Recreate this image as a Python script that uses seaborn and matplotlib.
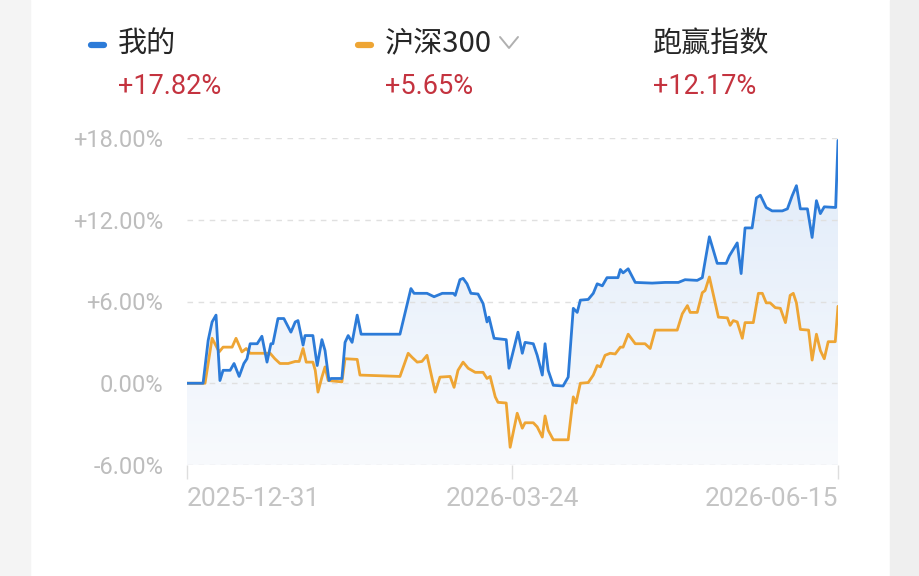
import numpy as np
import pandas as pd
import seaborn as sns
import matplotlib.pyplot as plt
import matplotlib.dates as mdates
from matplotlib.colors import LinearSegmentedColormap
from matplotlib.lines import Line2D
from matplotlib.patches import Rectangle

# Data (cumulative return in %, x as days after 2025-12-31)
start = pd.Timestamp('2025-12-31')
tick_dates = ['2025-12-31', '2026-03-24', '2026-06-15']
y_ticks = [-6, 0, 6, 12, 18]
y_labels = ['-6.00%', '0.00%', '+6.00%', '+12.00%', '+18.00%']

my_days = [0, 4.1, 5.4, 6.4, 7.4, 8.4, 9.2, 11.0, 12.0, 13.3, 14.5, 15.3, 16.1, 17.9, 19.1,
           20.4, 21.4, 21.9, 23.2, 24.7, 26.5, 27.6, 28.3, 29.6, 30.1, 32.1, 33.2, 34.4,
           35.2, 36.2, 36.7, 39.5, 40.3, 41.1, 42.1, 43.4, 44.4, 54.3, 57.1, 57.9, 61.2,
           63.0, 65.1, 67.9, 68.4, 69.6, 70.4, 71.4, 72.4, 74.2, 75.5, 76.5, 77.0, 78.3,
           81.4, 82.1, 84.4, 85.5, 86.2, 88.3, 89.3, 90.6, 91.3, 92.1, 93.4, 95.9, 97.2,
           98.5, 99.5, 100.3, 102.3, 103.6, 104.6, 105.9, 107.1, 109.9, 110.5, 111.2,
           112.5, 114.3, 118.6, 121.9, 125.3, 127.0, 130.1, 131.4, 131.9, 133.2, 135.2,
           137.5, 138.3, 140.3, 141.3, 142.3, 144.1, 145.2, 146.2, 147.7, 149.2, 151.8,
           153.1, 154.3, 155.4, 156.4, 158.2, 159.4, 160.5, 161.5, 162.5, 165.4, 166]
my_vals = [0.0, 0.0, 3.15, 4.5, 5.0, 0.2, 0.95, 0.95, 1.45, 0.5, 1.45, 1.8, 2.9, 2.9, 3.45,
           1.55, 2.9, 2.9, 4.75, 4.75, 3.75, 4.5, 4.6, 2.8, 3.5, 3.5, 1.3, 3.2,
           2.4, 0.2, 0.35, 0.35, 3.0, 3.5, 3.0, 5.0, 3.6, 3.6, 6.95, 6.6, 6.6,
           6.35, 6.6, 6.6, 6.45, 7.6, 7.7, 7.3, 6.6, 6.55, 5.85, 4.5, 4.85, 3.3,
           3.2, 1.1, 3.75, 2.2, 3.0, 2.9, 2.05, 0.6, 2.9, 0.95, -0.15, -0.2, 0.45,
           5.5, 5.2, 6.1, 6.15, 6.6, 7.3, 7.15, 7.75, 7.75, 8.35, 8.1,
           8.4, 7.4, 7.35, 7.4, 7.4, 7.6, 7.55, 7.75, 8.6, 10.75, 8.8,
           8.8, 9.35, 10.3, 8.05, 11.4, 11.4, 13.6, 13.8, 12.9, 12.65, 12.65,
           12.8, 13.75, 14.5, 12.8, 12.8, 10.7, 13.4, 12.45, 12.95, 12.9, 17.82]

hs_days = [0, 4.6, 6.4, 8.2, 9.2, 11.5, 12.5, 14.0, 15.1, 16.1, 21.2, 22.4, 23.7, 25.8,
           27.6, 28.6, 29.6, 30.4, 32.1, 32.7, 33.4, 34.4, 35.2, 36.0, 39.5, 40.3, 43.4,
           44.1, 54.3, 56.4, 57.4, 58.7, 59.9, 61.2, 62.5, 63.3, 64.5, 67.1, 68.1, 69.1,
           70.4, 71.7, 73.5, 75.5, 76.5, 77.3, 78.6, 79.3, 81.4, 82.4, 84.2, 85.5, 86.2,
           88.3, 89.3, 90.6, 91.3, 92.1, 93.4, 97.2, 98.5, 99.2, 100.3, 102.3, 103.6,
           104.6, 105.4, 106.6, 107.9, 109.2, 110.5, 111.2, 112.5, 114.3, 116.8, 118.1,
           119.4, 125.0, 126.3, 127.6, 128.3, 130.1, 131.4, 132.1, 133.2, 135.5, 137.8,
           138.5, 139.3, 140.3, 141.6, 142.3, 144.4, 145.7, 146.7, 147.7, 148.7, 150.0,
           151.3, 152.6, 153.8, 154.6, 155.4, 156.4, 158.5, 159.4, 160.5, 161.5, 162.5,
           163.5, 165.3, 166]
hs_vals = [0.0, 0.0, 3.3, 2.3, 2.65, 2.65, 3.3, 2.3, 2.55, 2.2, 2.2, 1.8, 1.45, 1.45,
           1.6, 1.6, 2.55, 1.55, 1.55, 0.95, -0.65, 0.45, 1.2, 0.2, 0.1, 1.8, 1.75,
           0.6, 0.5, 2.2, 1.9, 1.55, 1.6, 2.05, 0.35, -0.65, 0.45, 0.5, -0.3, 0.95,
           1.55, 1.1, 0.8, 0.8, 0.35, 0.5, -1.0, -1.4, -1.45, -4.7, -2.2, -3.3, -2.9,
           -2.9, -3.2, -3.95, -2.4, -3.45, -4.15, -4.15, -1.0, -1.45, 0.0, 0.05, 0.6,
           1.3, 1.2, 2.05, 2.2, 2.15, 2.65, 2.65, 3.6, 2.9, 2.9, 2.55,
           3.9, 3.9, 5.1, 5.7, 5.2, 5.2, 6.65, 6.8, 7.8, 4.85, 4.8,
           4.25, 4.6, 4.5, 3.3, 4.45, 4.45, 6.6, 6.6, 5.9, 5.9, 5.55,
           5.5, 4.45, 6.45, 6.6, 5.9, 3.95, 3.9, 1.7, 3.6, 2.4, 1.8,
           3.05, 3.05, 5.65]

legend_names = ['我的', '沪深300', '跑赢指数']
legend_values = ['+17.82%', '+5.65%', '+12.17%']

blue = '#2c7bd8'
orange = '#eea534'
red = '#c4333f'

my_dates = start + pd.to_timedelta(my_days, unit='D')
hs_dates = start + pd.to_timedelta(hs_days, unit='D')
df = pd.concat([
    pd.DataFrame({'date': hs_dates, 'ret': hs_vals, 'series': legend_names[1]}),
    pd.DataFrame({'date': my_dates, 'ret': my_vals, 'series': legend_names[0]}),
])

sns.set_theme(style='white')
plt.rcParams['font.family'] = ['Roboto', 'Noto Sans CJK SC', 'DejaVu Sans']

W, H = 920, 576
fig = plt.figure(figsize=(W / 100, H / 100), dpi=100)
fig.patch.set_facecolor('white')

# grey side strips of the screenshot
fig.add_artist(Rectangle((0, 0), 30 / W, 1, transform=fig.transFigure, color='#f4f4f4', zorder=0))
fig.add_artist(Rectangle((890 / W, 0), 30 / W, 1, transform=fig.transFigure, color='#efefef', zorder=0))

ax = fig.add_axes([187 / W, (H - 465) / H, (838 - 187) / W, (465 - 138) / H])
ax.set_facecolor('none')

# gradient area below my line
x0, x1 = mdates.date2num(my_dates[0]), mdates.date2num(my_dates[-1])
grad = np.linspace(0, 1, 256).reshape(-1, 1)
cmap = LinearSegmentedColormap.from_list('fade', ['#f8fafd', '#e0ebf9'])
im = ax.imshow(grad, aspect='auto', cmap=cmap, origin='lower',
               extent=[x0, x1, -6, 18], zorder=0)
poly = ax.fill_between(my_dates, my_vals, -6, color='none', lw=0)
im.set_clip_path(poly.get_paths()[0], transform=ax.transData)

# orange drawn first so the blue line sits on top
sns.lineplot(data=df, x='date', y='ret', hue='series',
             palette={legend_names[0]: blue, legend_names[1]: orange},
             hue_order=[legend_names[1], legend_names[0]], linewidth=2.0,
             legend=False, ax=ax, zorder=3)

ax.set_xlim(x0, x1)
ax.set_ylim(-6, 18)
ax.set_xlabel('')
ax.set_ylabel('')
for s in ax.spines.values():
    s.set_visible(False)

ax.set_yticks(y_ticks)
ax.set_yticklabels(y_labels)
ax.yaxis.grid(True, linestyle=(0, (4, 4)), color='#e0e0e0', lw=1)
ax.xaxis.grid(False)
ax.tick_params(axis='y', length=0, pad=17, labelsize=17, labelcolor='#bdbdbd')

ax.set_xticks(pd.to_datetime(tick_dates))
ax.set_xticklabels(tick_dates)
ax.tick_params(axis='x', length=10, width=1, color='#dedede', pad=6,
               labelsize=19, labelcolor='#c4c4c4', bottom=True)
for lab, ha in zip(ax.get_xticklabels(), ['left', 'center', 'right']):
    lab.set_ha(ha)

# header legend
head_x = [118, 385, 653]
for i, (name, val) in enumerate(zip(legend_names, legend_values)):
    fig.text(head_x[i] / W, 1 - 44 / H, name, fontsize=21, color='#262626',
             family=['Noto Sans CJK SC', 'DejaVu Sans'], ha='left', va='center')
    fig.text(head_x[i] / W, 1 - 87 / H, val, fontsize=19.5, color=red,
             ha='left', va='center')
for xs, c in [((91, 104), blue), ((358, 371), orange)]:
    fig.add_artist(Line2D([xs[0] / W, xs[1] / W], [1 - 45 / H, 1 - 45 / H], lw=4.5,
                          color=c, solid_capstyle='round', transform=fig.transFigure))
# drop-down chevron
fig.add_artist(Line2D([500 / W, 509 / W, 518 / W], [1 - 37 / H, 1 - 48 / H, 1 - 37 / H],
                      lw=1.4, color='#b0b0b0', transform=fig.transFigure))

fig.savefig('out.png', dpi=100)
